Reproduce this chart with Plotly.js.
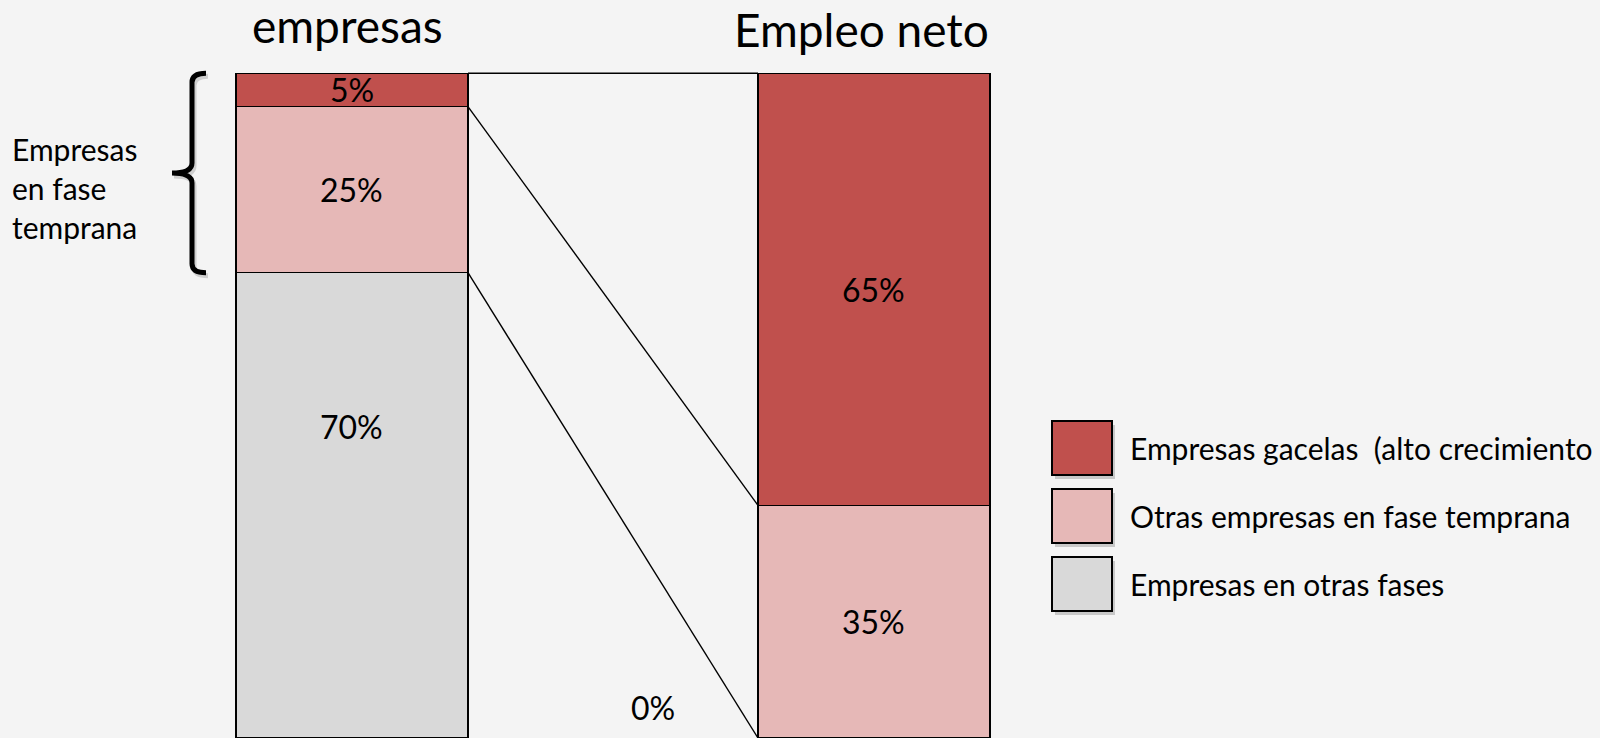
<!DOCTYPE html>
<html>
<head>
<meta charset="utf-8">
<script src="https://cdn.plot.ly/plotly-3.0.1.min.js"></script>
<style>
  html, body { margin: 0; padding: 0; background: #f4f4f4; }
  #chart { width: 1600px; height: 738px; }
</style>
</head>
<body>
<div id="chart"></div>
<script>
// ---- data ----
const categories = ["empresas", "Empleo neto"];
const seriesNames = ["Empresas gacelas  (alto crecimiento", "Otras empresas en fase temprana", "Empresas en otras fases"];
const gacelas = [5, 65];
const otrasTempranas = [25, 35];
const otrasFases = [70, 0];
const bracketLabel = ["Empresas", "en fase", "temprana"];

// ---- geometry / style ----
const W = 1600, H = 738, MT = 70, MB = 0;
const plotH = H - MT - MB;
const xRange = [-0.6743, 2.3908];
const yRange = [0, 100.5];
const pxPerX = W / (xRange[1] - xRange[0]);
const pxPerY = plotH / (yRange[1] - yRange[0]);
const barW = 0.4444;
const FONT = "Lato, 'Open Sans', sans-serif";
const colors = ["#C0504D", "#E6B8B7", "#D9D9D9"];
const xPos = categories.map((c, i) => i);

const pxToX = px => xRange[0] + px / pxPerX;
const pxPaperX = px => px / W;
const pxPaperY = py => (H - MB - py) / plotH;

// stacked series, bottom -> top
const stackOrder = [
  {name: seriesNames[2], vals: otrasFases, color: colors[2]},
  {name: seriesNames[1], vals: otrasTempranas, color: colors[1]},
  {name: seriesNames[0], vals: gacelas, color: colors[0]}
];

const traces = [];
stackOrder.forEach(s => {
  traces.push({
    type: "bar", x: xPos, y: s.vals, name: s.name, width: barW,
    marker: {color: s.color, line: {color: "#000", width: 1.5}},
    showlegend: false, hoverinfo: "y+name"
  });
});

// cumulative tops per segment
const bases = stackOrder.map(() => [0, 0]);
const tops = stackOrder.map(() => [0, 0]);
for (let c = 0; c < 2; c++) {
  let acc = 0;
  stackOrder.forEach((s, k) => { bases[k][c] = acc; acc += s.vals[c]; tops[k][c] = acc; });
}

// connector lines between the right edge of the first bar and left edge of the second
stackOrder.forEach((s, k) => {
  traces.push({
    type: "scatter", mode: "lines",
    x: [xPos[0] + barW / 2, xPos[1] - barW / 2],
    y: [tops[k][0], tops[k][1]],
    line: {color: "#000", width: 1.4},
    showlegend: false, hoverinfo: "skip", cliponaxis: false
  });
});

// value labels
const annotations = [];
stackOrder.forEach((s, k) => {
  for (let c = 0; c < 2; c++) {
    const v = s.vals[c];
    const a = {
      x: xPos[c], y: bases[k][c] + v / 2, xref: "x", yref: "y",
      xanchor: "center", yanchor: "middle",
      text: v + "%", showarrow: false,
      font: {family: FONT, size: 32, color: "#000"}
    };
    if (v === 0) {           // empty segment: label placed outside, left of bar
      a.x = xPos[c] - barW / 2; a.xshift = -105; a.yshift = 31;
    } else if (k === 0) {    // lower grey block label sits higher in the block
      a.yshift = 79;
    }
    annotations.push(a);
  }
});

// column titles
annotations.push({x: xPos[0], y: pxPaperY(25), xref: "x", yref: "paper", text: categories[0],
  xanchor: "center", yanchor: "middle",
  showarrow: false, xshift: -4, font: {family: FONT, size: 46, color: "#000"}});
annotations.push({x: xPos[1], y: pxPaperY(30), xref: "x", yref: "paper", text: categories[1],
  xanchor: "center", yanchor: "middle",
  showarrow: false, xshift: -12, font: {family: FONT, size: 46, color: "#000"}});

// bracket label
annotations.push({x: pxPaperX(10), y: pxPaperY(188), xref: "paper", yref: "paper",
  xanchor: "left", yanchor: "middle", align: "left", text: bracketLabel.join("<br>"),
  showarrow: false, font: {family: FONT, size: 30, color: "#000"}});

// legend (custom, large swatches)
const shapes = [];
const legTop = [421, 489, 557], sw = 60, sh = 54, legX = 1052;
stackOrder.slice().reverse().forEach((s, i) => {
  shapes.push({type: "rect", xref: "paper", yref: "paper",
    x0: pxPaperX(legX + 3), x1: pxPaperX(legX + sw + 3),
    y0: pxPaperY(legTop[i] + 4), y1: pxPaperY(legTop[i] + sh + 4),
    line: {width: 0}, fillcolor: "rgba(0,0,0,0.18)"});
  shapes.push({type: "rect", xref: "paper", yref: "paper",
    x0: pxPaperX(legX), x1: pxPaperX(legX + sw),
    y0: pxPaperY(legTop[i]), y1: pxPaperY(legTop[i] + sh),
    line: {color: "#000", width: 2}, fillcolor: s.color});
  annotations.push({x: pxPaperX(1128), y: pxPaperY(legTop[i] + sh / 2), xref: "paper", yref: "paper",
    xanchor: "left", yanchor: "middle", text: s.name.replace(/  /g, " \u00a0"),
    showarrow: false, font: {family: FONT, size: 30, color: "#000"}});
});

// curly bracket spanning the early-stage segments of the first bar (top of stack down to base of segment 1)
const bTop = tops[2][0], bBot = bases[1][0], bMid = (bTop + bBot) / 2;
function bracePath(dx, dy) {
  const vx = pxToX(192 + dx), hx = pxToX(206 + dx), tx = pxToX(172 + dx);
  const r = 9 / pxPerY, r2 = 10 / pxPerY, o = dy / pxPerY;
  const T = bTop - o, B = bBot - o, M = bMid - o;
  return `M ${hx},${T} Q ${vx},${T} ${vx},${T - r} L ${vx},${M + r2} Q ${vx},${M} ${tx},${M} ` +
         `Q ${vx},${M} ${vx},${M - r2} L ${vx},${B + r} Q ${vx},${B} ${hx},${B}`;
}
shapes.push({type: "path", xref: "x", yref: "y", path: bracePath(2, 3),
  line: {color: "rgba(0,0,0,0.15)", width: 5}});
shapes.push({type: "path", xref: "x", yref: "y", path: bracePath(0, 0),
  line: {color: "#000", width: 5}});

const layout = {
  width: W, height: H,
  margin: {l: 0, r: 0, t: MT, b: MB, pad: 0},
  paper_bgcolor: "#f4f4f4", plot_bgcolor: "#f4f4f4",
  barmode: "stack", bargap: 0,
  showlegend: false,
  xaxis: {range: xRange, visible: false, fixedrange: true},
  yaxis: {range: yRange, visible: false, fixedrange: true},
  annotations: annotations, shapes: shapes,
  font: {family: FONT}
};

Plotly.newPlot("chart", traces, layout, {displayModeBar: false, staticPlot: true});
</script>
</body>
</html>
